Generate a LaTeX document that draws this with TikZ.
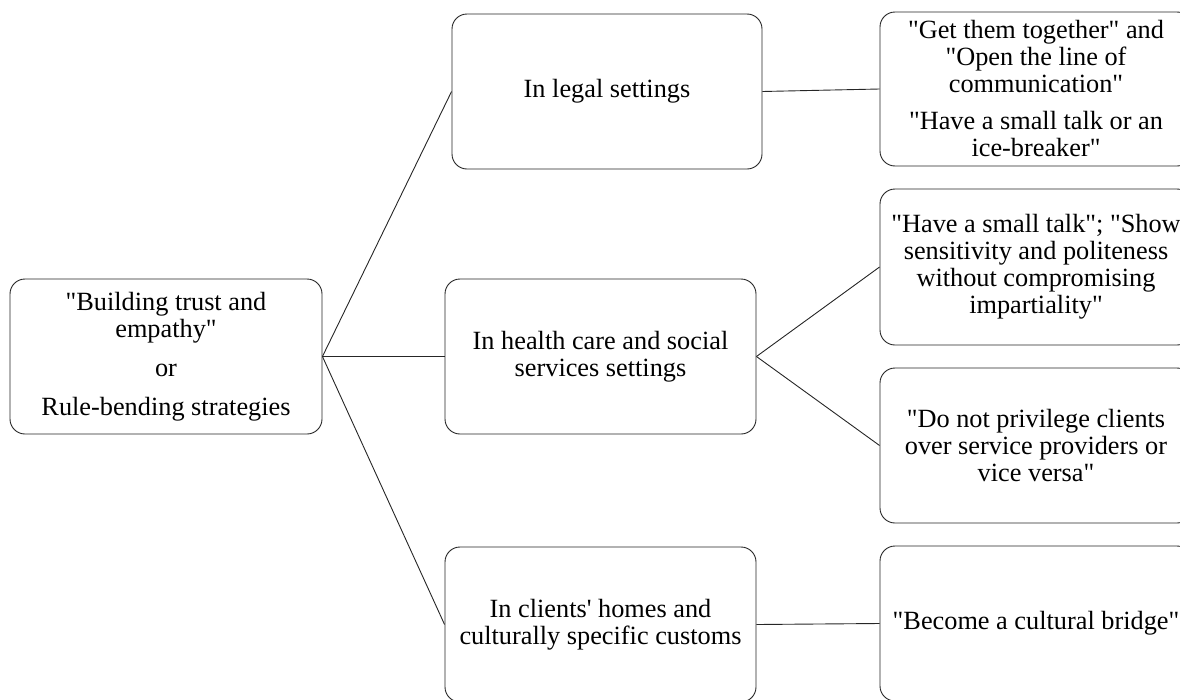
\documentclass[tikz,border=0pt]{standalone}
\usepackage{fontspec}
% no TeX mapping, so quotes and apostrophes stay straight as typed
\setmainfont{Liberation Serif}[Ligatures=TeXOff]
\begin{document}
\begin{tikzpicture}[x=1pt,y=-1pt,
  box/.style={draw=black!85, line width=0.9pt, rounded corners=15pt,
    align=center, inner sep=0pt, anchor=center,
    font=\fontsize{26.3}{27}\selectfont},
  link/.style={draw=black!85, line width=0.9pt}]
\useasboundingbox (0,0) rectangle (1180,699);
\clip (0,0) rectangle (1180,699);

% root
\node[box, minimum width=312pt, minimum height=155pt] (root) at (166,356.5)
  {"Building trust and\\ empathy"\\[12pt] or\\[12pt] Rule-bending strategies};

% settings
\node[box, minimum width=310pt, minimum height=155pt] (legal) at (607,91.5)
  {In legal settings};
\node[box, minimum width=311pt, minimum height=155pt] (health) at (600.5,356.5)
  {In health care and social\\ services settings};
\node[box, minimum width=311pt, minimum height=155pt] (homes) at (600.5,624.5)
  {In clients' homes and\\ culturally specific customs};

% strategies
\node[box, minimum width=312pt, minimum height=154pt] (r1) at (1036,89)
  {"Get them together" and\\ "Open the line of\\ communication"\\[10pt]
   "Have a small talk or an\\ ice-breaker"};
\node[box, minimum width=312pt, minimum height=156pt] (r2) at (1036,267)
  {"Have a small talk"; "Show\\ sensitivity and politeness\\ without compromising\\ impartiality"};
\node[box, minimum width=312pt, minimum height=155pt] (r3) at (1036,445.5)
  {"Do not privilege clients\\ over service providers or\\ vice versa"};
\node[box, minimum width=312pt, minimum height=155pt] (r4) at (1036,623.5)
  {"Become a cultural bridge"};

% connectors
\draw[link] (root.east) -- (legal.west);
\draw[link] (root.east) -- (health.west);
\draw[link] (root.east) -- (homes.west);
\draw[link] (legal.east) -- (r1.west);
\draw[link] (health.east) -- (r2.west);
\draw[link] (health.east) -- (r3.west);
\draw[link] (homes.east) -- (r4.west);
\end{tikzpicture}
\end{document}
